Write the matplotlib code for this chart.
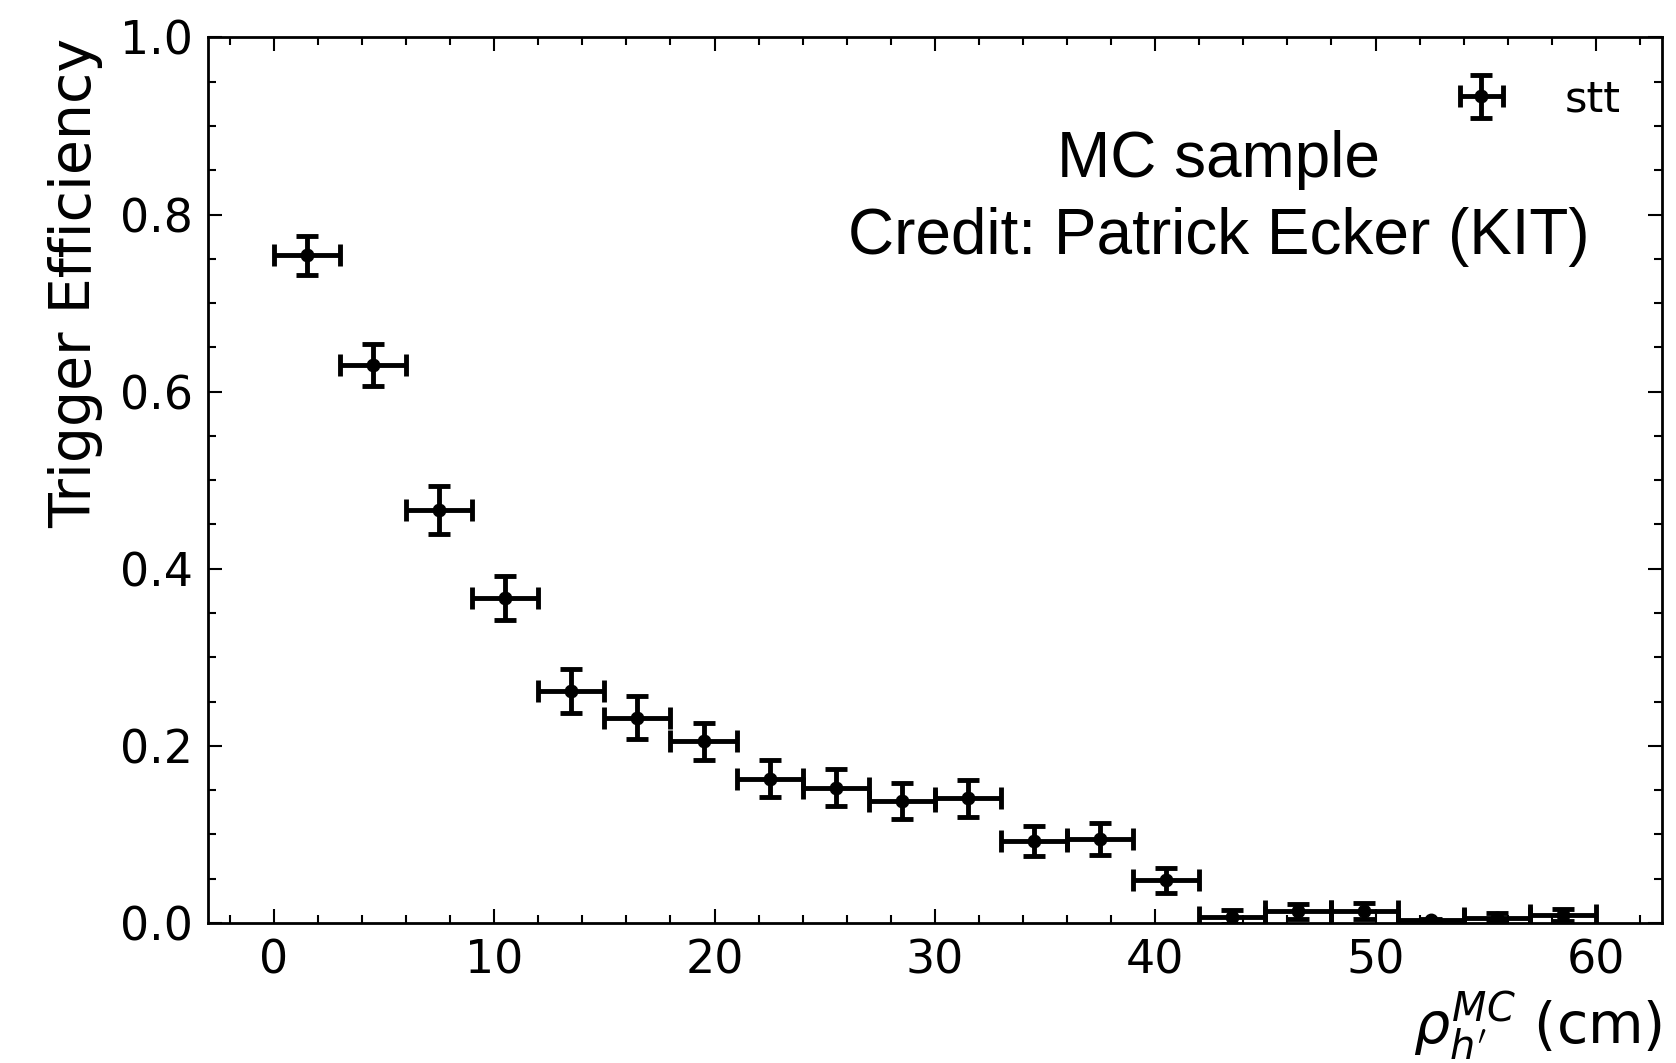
import numpy as np
import matplotlib
matplotlib.use("Agg")
import matplotlib.pyplot as plt
from matplotlib.ticker import MultipleLocator

plt.rcParams['font.family'] = ['DejaVu Sans']
plt.rcParams['mathtext.fontset'] = 'dejavusans'

# bin centres (cm), half bin width
rho_centres = [1.5, 4.5, 7.5, 10.5, 13.5, 16.5, 19.5, 22.5, 25.5, 28.5,
               31.5, 34.5, 37.5, 40.5, 43.5, 46.5, 49.5, 52.5, 55.5, 58.5]
rho_halfwidth = [1.5] * len(rho_centres)

efficiency = [0.754, 0.630, 0.466, 0.367, 0.262, 0.232, 0.205, 0.163, 0.153, 0.138,
              0.141, 0.093, 0.095, 0.048, 0.007, 0.013, 0.014, 0.003, 0.006, 0.009]
efficiency_err = [0.022, 0.024, 0.027, 0.025, 0.025, 0.024, 0.021, 0.021, 0.021, 0.020,
                  0.021, 0.017, 0.018, 0.014, 0.008, 0.008, 0.009, 0.002, 0.005, 0.007]

fig = plt.figure(figsize=(16.76, 10.63), dpi=100)
ax = fig.add_axes([0.124, 0.1317, 0.8676, 0.8331])

ax.errorbar(rho_centres, efficiency, xerr=rho_halfwidth, yerr=efficiency_err,
            fmt='o', color='black', markersize=9, elinewidth=3.5,
            capsize=8, capthick=3.5, label='stt')

ax.set_xlim(-3, 63)
ax.set_ylim(0, 1.0)

# ticks inside on all sides, with minor ticks
ax.xaxis.set_major_locator(MultipleLocator(10))
ax.xaxis.set_minor_locator(MultipleLocator(2))
ax.yaxis.set_major_locator(MultipleLocator(0.2))
ax.yaxis.set_minor_locator(MultipleLocator(0.05))
ax.tick_params(which='both', direction='in', top=True, right=True, width=1.5)
ax.tick_params(which='major', length=10, labelsize=33, pad=11)
ax.tick_params(which='minor', length=6)
for sp in ax.spines.values():
    sp.set_linewidth(2)

ax.set_ylabel('Trigger Efficiency', fontsize=41, loc='top', labelpad=12)
ax.set_xlabel(r"$\rho_{h'}^{MC}$ (cm)", fontsize=41, loc='right')

ax.legend(loc='upper right', frameon=False, fontsize=31, handlelength=1.2,
          handletextpad=1.35, borderaxespad=0.4, borderpad=0.55)

ax.text(0.695, 0.862, 'MC sample', transform=ax.transAxes, ha='center', va='center',
        fontsize=46, family='Liberation Sans')
ax.text(0.695, 0.775, 'Credit: Patrick Ecker (KIT)', transform=ax.transAxes,
        ha='center', va='center', fontsize=46, family='Liberation Sans')

fig.savefig('out.png', dpi=100)
